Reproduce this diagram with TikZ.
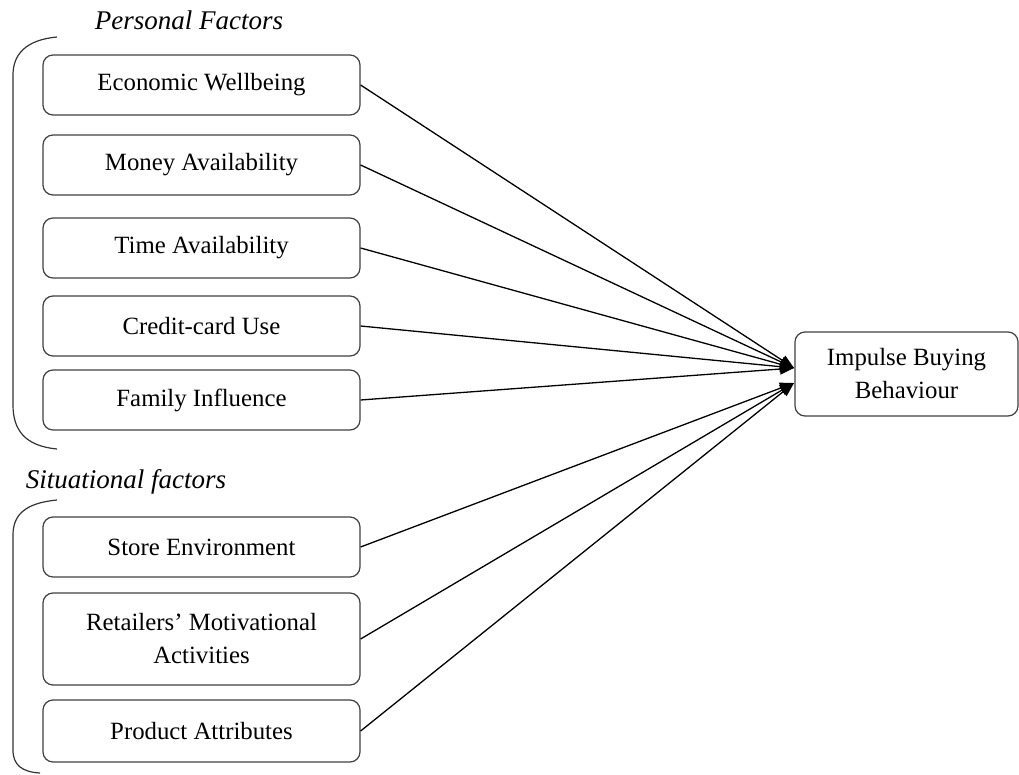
\documentclass[tikz,border=0pt]{standalone}
\usepackage{fontspec}
\setmainfont{Liberation Serif}
\usetikzlibrary{arrows.meta}
\begin{document}
\begin{tikzpicture}[x=1pt,y=-1pt,
  fbox/.style={draw=black!75, line width=1.2pt, rounded corners=10pt, minimum width=317pt, inner sep=0pt, align=center, font=\fontsize{24.8}{33}\selectfont},
  link/.style={line width=1.3pt, -{Triangle[length=14pt,width=11pt]}},
  grouptitle/.style={font=\fontsize{27}{32}\selectfont\itshape},
  bracket/.style={line width=1.2pt, draw=black!80}]
\useasboundingbox (0,0) rectangle (1019,775);
\node[grouptitle] (t1) at (189,20) {Personal Factors};
\node[grouptitle] (t2) at (126,482) {Situational factors};
\node[fbox, minimum height=60pt] (b1) at (201.5,85) {Economic Wellbeing};
\node[fbox, minimum height=60pt] (b2) at (201.5,165) {Money Availability};
\node[fbox, minimum height=60pt] (b3) at (201.5,248) {Time Availability};
\node[fbox, minimum height=60pt] (b4) at (201.5,326) {Credit-card Use};
\node[fbox, minimum height=60pt] (b5) at (201.5,400) {Family Influence};
\node[fbox, minimum height=60pt] (b6) at (201.5,547) {Store Environment};
\node[fbox, minimum height=92pt] (b7) at (201.5,639) {Retailers’ Motivational\\Activities};
\node[fbox, minimum height=62pt] (b8) at (201.5,731) {Product Attributes};
\node[fbox, minimum width=223pt, minimum height=84pt] (tgt) at (906.5,374) {Impulse Buying\\Behaviour};
\coordinate (pin) at (794,368);
\coordinate (sin) at (794,383);
\foreach \b in {b1,b2,b3,b4,b5} \draw[link] (\b.east) -- (pin);
\foreach \b in {b6,b7,b8} \draw[link] (\b.east) -- (sin);
\draw[bracket] (57,37) .. controls (25,40) and (13,55) .. (13,75) -- (13,405) .. controls (13,430) and (25,446) .. (57,449);
\draw[bracket] (57,500) .. controls (25,503) and (13,515) .. (13,535) -- (13,750) .. controls (13,765) and (22,772) .. (40,773);
\end{tikzpicture}
\end{document}
